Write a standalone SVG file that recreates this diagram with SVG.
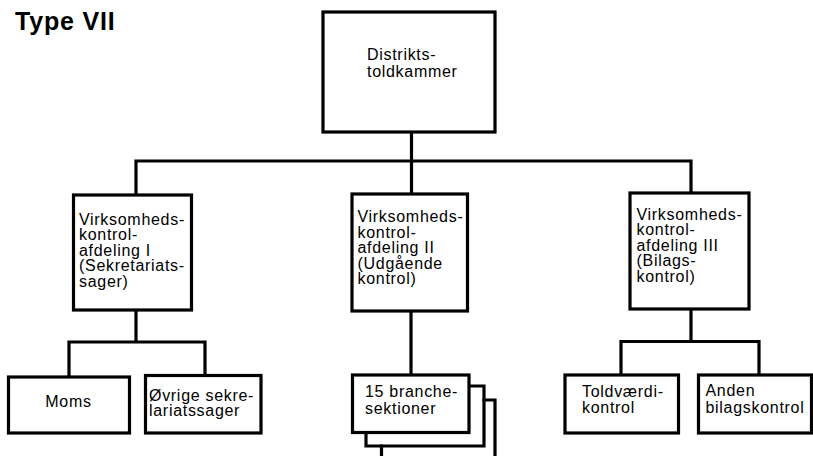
<svg xmlns="http://www.w3.org/2000/svg" width="813" height="456" viewBox="0 0 813 456">
<style>
  .box { fill: #ffffff; stroke: #000000; stroke-width: 3.2; stroke-linejoin: miter; }
  .ln { fill: none; stroke: #000000; stroke-width: 3.2; stroke-linecap: square; stroke-linejoin: miter; }
  .t { font-family: "Liberation Sans", Arial, sans-serif; font-size: 16px; letter-spacing: 0.7px; fill: #000000; }
  .title { font-family: "Liberation Sans", Arial, sans-serif; font-size: 25px; font-weight: bold; letter-spacing: 0.8px; fill: #000000; }
</style>
<rect x="0" y="0" width="813" height="456" fill="#ffffff"/>
<text class="title" x="15" y="30">Type VII</text>

<g id="connectors">
  <path class="ln" d="M411.5 132 V161 M136 161 H691 M136 161 V195 M411.5 161 V194 M691 161 V193"/>
  <path class="ln" d="M136 310 V342 M69 342 H205 M69 342 V377 M205 342 V375"/>
  <path class="ln" d="M411 311 V375"/>
  <path class="ln" d="M691 309 V341.5 M621 341.5 H759 M621 341.5 V375 M759 341.5 V375"/>
</g>

<g id="n-distrikt">
  <rect class="box" x="323" y="12" width="172" height="120"/>
  <text class="t" x="367" y="60">Distrikts-<tspan x="367" dy="16.5">toldkammer</tspan></text>
</g>

<g id="n-afd1">
  <rect class="box" x="73.5" y="195" width="118" height="115"/>
  <text class="t" x="79" y="224.5">Virksomheds-<tspan x="79" dy="15.5">kontrol-</tspan><tspan x="79" dy="15.5">afdeling I</tspan><tspan x="79" dy="15.5">(Sekretariats-</tspan><tspan x="79" dy="15.5">sager)</tspan></text>
</g>

<g id="n-afd2">
  <rect class="box" x="352" y="194" width="115.5" height="117"/>
  <text class="t" x="357.5" y="222">Virksomheds-<tspan x="357.5" dy="15.5">kontrol-</tspan><tspan x="357.5" dy="15.5">afdeling II</tspan><tspan x="357.5" dy="15.5">(Udgående</tspan><tspan x="357.5" dy="15.5">kontrol)</tspan></text>
</g>

<g id="n-afd3">
  <rect class="box" x="630" y="193" width="119" height="116"/>
  <text class="t" x="636.5" y="219.5">Virksomheds-<tspan x="636.5" dy="15.5">kontrol-</tspan><tspan x="636.5" dy="15.5">afdeling III</tspan><tspan x="636.5" dy="15.5">(Bilags-</tspan><tspan x="636.5" dy="15.5">kontrol)</tspan></text>
</g>

<g id="n-moms">
  <rect class="box" x="8.5" y="377" width="121" height="56"/>
  <text class="t" x="68.5" y="407" text-anchor="middle">Moms</text>
</g>

<g id="n-ovrige">
  <rect class="box" x="145.5" y="375.5" width="115.5" height="57.5"/>
  <text class="t" x="149" y="400.5">Øvrige sekre-<tspan x="149" dy="15.5">lariatssager</tspan></text>
</g>

<g id="n-branche">
  <path class="ln" d="M381.5 456 V446 M484 400 H495 V456"/>
  <path class="ln" d="M366 432.5 V446 H484 V386 H469"/>
  <rect class="box" x="352.5" y="375" width="116.5" height="57.5"/>
  <text class="t" x="365" y="397">15 branche-<tspan x="365" dy="16.5">sektioner</tspan></text>
</g>

<g id="n-toldvaerdi">
  <rect class="box" x="565" y="375" width="113.5" height="58"/>
  <text class="t" x="582" y="397">Toldværdi-<tspan x="582" dy="15.5">kontrol</tspan></text>
</g>

<g id="n-anden">
  <rect class="box" x="698.5" y="375" width="113" height="58"/>
  <text class="t" x="705.5" y="396">Anden<tspan x="705.5" dy="16.5">bilagskontrol</tspan></text>
</g>
</svg>
